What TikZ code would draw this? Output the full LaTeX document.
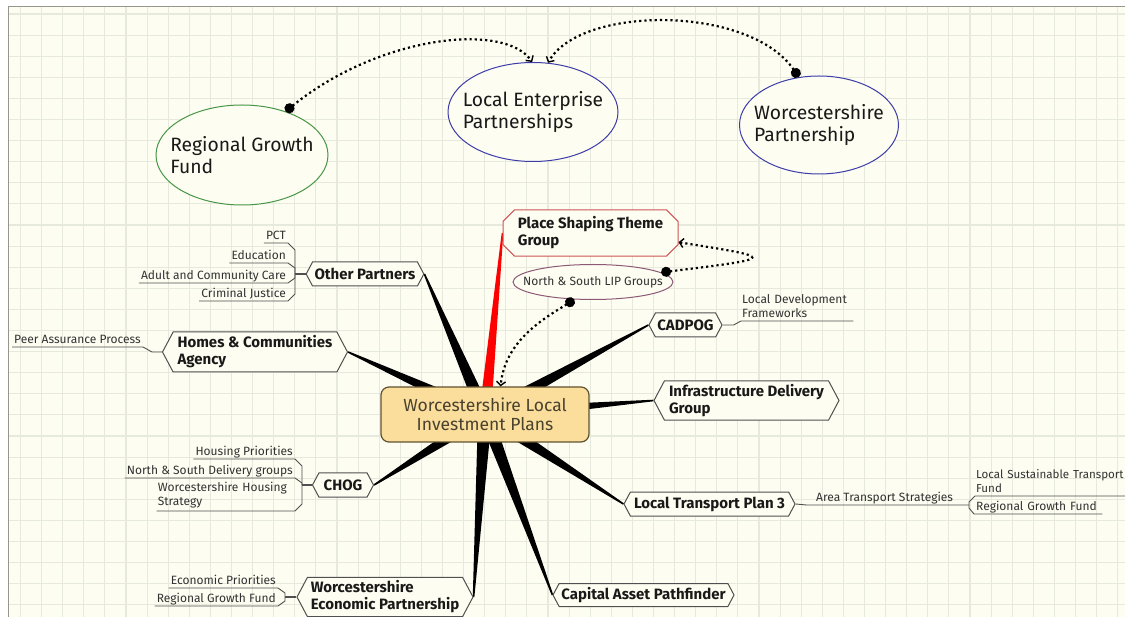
\documentclass[tikz,border=0pt]{standalone}
\usepackage{fontspec}
\setmainfont{Fira Sans}
\usetikzlibrary{shapes.symbols,shapes.misc,shapes.geometric,arrows.meta,calc}

\definecolor{paper}{RGB}{253,253,241}
\definecolor{gridline}{RGB}{230,234,220}
\definecolor{framegrey}{RGB}{150,150,140}
\definecolor{hubfill}{RGB}{251,221,156}
\definecolor{hubedge}{RGB}{95,82,48}
\definecolor{branchedge}{RGB}{80,80,80}
\definecolor{fundgreen}{RGB}{70,150,70}
\definecolor{partblue}{RGB}{60,60,170}
\definecolor{lipmauve}{RGB}{140,90,120}
\definecolor{placered}{RGB}{205,85,85}
\definecolor{leafgrey}{RGB}{50,50,50}
\definecolor{hubtext}{RGB}{72,66,46}

\newcommand{\bigfont}{\fontsize{19.3}{22}\selectfont}
\newcommand{\hubfont}{\fontsize{17.5}{19}\selectfont}
\newcommand{\branchfont}{\bfseries\fontsize{15}{17}\selectfont}
\newcommand{\leaffont}{\fontsize{12}{14}\selectfont}

\pgfdeclarelayer{paperlayer}
\pgfdeclarelayer{wedgelayer}
\pgfsetlayers{paperlayer,wedgelayer,main}

\tikzset{
  idea/.style={ellipse, draw, line width=1pt, fill=paper, minimum width=172pt,
    minimum height=100pt, inner sep=0pt},
  ideatext/.style={font=\bigfont, align=left, text=black!90},
  hub/.style={rectangle, rounded corners=8pt, draw=hubedge, fill=hubfill, line width=1.2pt,
    font=\hubfont, text=hubtext, align=center, minimum width=208pt, minimum height=55pt},
  branch/.style={signal, signal to=west and east, signal pointer angle=124, draw=branchedge,
    fill=paper, line width=1pt, font=\branchfont, align=left, text=black!90,
    inner xsep=2pt, minimum height=24pt},
  place/.style={chamfered rectangle, chamfered rectangle xsep=8pt, draw=placered, fill=paper,
    line width=1pt, font=\branchfont, align=left, text=black!90,
    minimum width=175pt, minimum height=40pt},
  leaf/.style={font=\leaffont, text=leafgrey, inner xsep=2pt, inner ysep=1pt,
    text depth=2.5pt, align=left},
  leaftwo/.style={font=\leaffont, text=leafgrey, inner xsep=1pt, inner ysep=3pt, align=left},
  twig/.style={draw=branchedge, line width=0.9pt},
  link/.style={line width=2.2pt, dash pattern=on 2.2pt off 3pt,
    arrows={Circle[length=10pt]-Straight Barb[length=4pt,width=9pt,line width=1.4pt]}},
}

\begin{document}
\begin{tikzpicture}[x=1pt,y=1pt]
\useasboundingbox (0,0) rectangle (1125,-617);

% paper and grid
\begin{pgfonlayer}{paperlayer}
  \fill[white] (0,0) rectangle (1125,-617);
  \fill[paper] (8,-7) rectangle (1125,-617);
  \draw[gridline, line width=1.1pt, shift={(20.5,-14)}] (-12.5,7) grid[step=21.1] (1104.5,-603);
  \draw[framegrey, line width=1pt] (8,-617) -- (8,-7) -- (1125,-7);
\end{pgfonlayer}

% top ideas
\node[idea, draw=fundgreen, label={[ideatext]center:{Regional Growth\\Fund}}] (rgf) at (242,-155) {};
\node[idea, draw=partblue, minimum width=170pt, minimum height=99pt,
  label={[ideatext]center:{Local Enterprise\\Partnerships}}] (lep) at (533,-112) {};
\node[idea, draw=partblue, minimum width=159pt, minimum height=98pt,
  label={[ideatext]center:{Worcestershire\\Partnership}}] (wp) at (819,-125) {};

% central topic
\node[hub] (wlip) at (485,-414.5) {Worcestershire Local\\Investment Plans};

% main branches
\node[branch, minimum width=117pt] (op) at (365,-274) {Other Partners};
\node[branch, minimum width=185pt, minimum height=40pt] (hca) at (255,-352) {Homes \& Communities\\Agency};
\node[branch, minimum width=61pt] (chog) at (343,-485) {CHOG};
\node[branch, minimum width=176pt, minimum height=38pt] (wep) at (385,-597) {Worcestershire\\Economic Partnership};
\node[branch, minimum width=181pt, minimum height=23pt] (cap) at (643.5,-595) {Capital Asset Pathfinder};
\node[branch, minimum width=171pt] (ltp) at (709.5,-504) {Local Transport Plan 3};
\node[branch, minimum width=185pt, minimum height=39pt] (idg) at (746.5,-400.5) {Infrastructure Delivery\\Group};
\node[branch, minimum width=73pt] (cadpog) at (685.5,-325) {CADPOG};
\node[place] (psg) at (590.5,-233) {Place Shaping Theme\\Group};
\node[ellipse, draw=lipmauve, line width=1pt, fill=paper, minimum width=160pt, minimum height=35pt,
  inner sep=0pt, label={[font=\leaffont, text=leafgrey]center:North \& South LIP Groups}] (nslip) at (593,-282) {};

% sub topics
\node[leaf, anchor=south east] (pct) at (288,-243) {PCT};
\node[leaf, anchor=south east] (edu) at (288,-263) {Education};
\node[leaf, anchor=south east] (acc) at (288,-283) {Adult and Community Care};
\node[leaf, anchor=south east] (cj) at (288,-301) {Criminal Justice};
\coordinate (opj) at (295,-274);
\node[leaf, anchor=south east] (pap) at (143,-347) {Peer Assurance Process};
\node[leaf, anchor=south east] (hp) at (295,-459) {Housing Priorities};
\node[leaf, anchor=south east] (nsdg) at (295,-478) {North \& South Delivery groups};
\node[leaftwo, anchor=south east, text width=136pt] (whs) at (295,-511) {Worcestershire Housing\\Strategy};
\coordinate (chj) at (302,-485);
\node[leaf, anchor=south east] (ep) at (278,-588) {Economic Priorities};
\node[leaf, anchor=south east] (rgfw) at (278,-606) {Regional Growth Fund};
\coordinate (wepj) at (285,-597);
\node[leaftwo, anchor=south west, text width=110pt] (ldf) at (741,-321) {Local Development\\Frameworks};
\node[leaf, anchor=south west] (ats) at (814,-505) {Area Transport Strategies};
\coordinate (atsj) at (969,-505);
\node[leaftwo, anchor=south west, text width=166pt, font=\fontsize{11.6}{14}\selectfont] (lstf) at (975,-496) {Local Sustainable Transport\\Fund};
\node[leaf, anchor=south west, text width=124pt] (rgft) at (974,-514) {Regional Growth Fund};

% twigs
\draw[twig] (pct.south west) -- (pct.south east) -- ++(7,-7) -- (opj);
\draw[twig] (edu.south west) -- (edu.south east) -- ++(7,-5) -- (opj);
\draw[twig] (acc.south west) -- (acc.south east) -- ++(7,5) -- (opj);
\draw[twig] (cj.south west) -- (cj.south east) -- ++(7,7) -- (opj);
\draw[twig, line width=1.8pt] (opj) -- (op.west);
\draw[twig] (pap.south west) -- (pap.south east) -- ++(9,-5) -- (hca.west);
\draw[twig] (hp.south west) -- (hp.south east) -- ++(7,-7) -- (chj);
\draw[twig] (nsdg.south west) -- (nsdg.south east) -- ++(7,-5) -- (chj);
\draw[twig] (whs.south west) -- (whs.south east) -- ++(7,7) -- (chj);
\draw[twig, line width=1.8pt] (chj) -- (chog.west);
\draw[twig] (ep.south west) -- (ep.south east) -- ++(7,-5) -- (wepj);
\draw[twig] (rgfw.south west) -- (rgfw.south east) -- ++(7,5) -- (wepj);
\draw[twig, line width=1.8pt] (wepj) -- (wep.west);
\draw[twig] (cadpog.east) -- ++(11,0) -- (ldf.south west) -- (ldf.south east);
\draw[twig] (ltp.east) -- ++(11,-1) -- (ats.south west) -- (ats.south east) -- (atsj);
\draw[twig] (lstf.south east) -- (lstf.south west) -- ++(-6,-6) -- (atsj);
\draw[twig] (rgft.south east) -- (rgft.south west) -- ++(-5,6) -- (atsj);

% tapered branch lines
\begin{pgfonlayer}{wedgelayer}
  \foreach \tip in {op.east,hca.east,chog.east,wep.east,cap.west,ltp.west,idg.west,cadpog.west}
    \fill[black] ($(wlip.center)!7pt!90:(\tip)$) -- ($(\tip)!0.8pt!-90:(wlip.center)$)
      -- ($(\tip)!0.8pt!90:(wlip.center)$) -- ($(wlip.center)!7pt!-90:(\tip)$) -- cycle;
  \fill[red] ($(wlip.center)!6pt!90:(psg.west)$) -- ($(psg.west)!0.8pt!-90:(wlip.center)$)
    -- ($(psg.west)!0.8pt!90:(wlip.center)$) -- ($(wlip.center)!6pt!-90:(psg.west)$) -- cycle;
\end{pgfonlayer}

% relationships
\draw[link] (rgf.45) .. controls (380,-35) and (505,-22) .. (lep.91);
\draw[link] (wp.113) .. controls (750,-5) and (580,-5) .. (lep.73);
\draw[link] (nslip.8) .. controls (778,-258) and (778,-258) .. (psg.-6);
\draw[link] (nslip.-137) .. controls (545,-318) and (505,-340) .. (wlip.61);
\end{tikzpicture}
\end{document}
